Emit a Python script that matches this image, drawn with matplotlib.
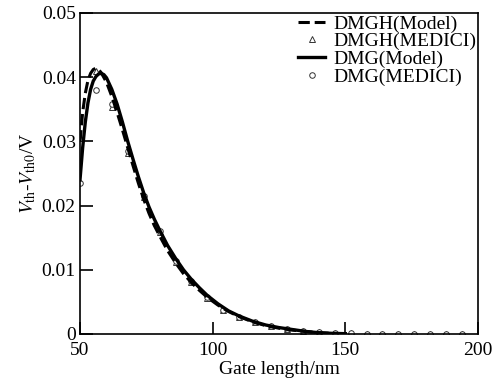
import numpy as np
import matplotlib
matplotlib.use('Agg')
import matplotlib.pyplot as plt

plt.rcParams['font.family'] = ['Liberation Serif', 'DejaVu Serif']
plt.rcParams['mathtext.fontset'] = 'stix'

# DMGH model (dashed)
x_dmgh = [50, 51, 52, 53, 54, 55, 56, 57, 58, 60, 62, 64, 66, 68, 70, 72, 74, 76, 78, 80,
          83, 86, 89, 92, 95, 98, 102, 106, 110, 115, 120, 125, 130, 135, 140, 145, 150]
y_dmgh = [0.0300, 0.0345, 0.0375, 0.0395, 0.0406, 0.0412, 0.0414, 0.0412, 0.0407, 0.0392,
          0.0370, 0.0345, 0.0318, 0.0290, 0.0262, 0.0235, 0.0210, 0.0188, 0.0169, 0.0153,
          0.0130, 0.0111, 0.0094, 0.0080, 0.0068, 0.0057, 0.0045, 0.0035, 0.0027, 0.0019,
          0.0013, 0.0009, 0.0006, 0.0004, 0.0002, 0.0001, 0.0]

# DMG model (solid)
x_dmg = [50, 51, 52, 53, 54, 55, 56, 57, 58, 59, 60, 62, 64, 66, 68, 70, 72, 74, 76, 78, 80,
         83, 86, 89, 92, 95, 98, 102, 106, 110, 115, 120, 125, 130, 135, 140, 145, 150]
y_dmg = [0.0240, 0.0290, 0.0330, 0.0360, 0.0381, 0.0394, 0.0401, 0.0405, 0.0406, 0.0404,
         0.0399, 0.0381, 0.0358, 0.0330, 0.0300, 0.0272, 0.0245, 0.0220, 0.0198, 0.0179,
         0.0162, 0.0138, 0.0118, 0.0100, 0.0085, 0.0072, 0.0060, 0.0047, 0.0036, 0.0028,
         0.0020, 0.0014, 0.0010, 0.0007, 0.0004, 0.0002, 0.0001, 0.00005]

# MEDICI simulation points
x_sim = [50, 56, 62, 68, 74, 80, 86, 92, 98, 104, 110, 116, 122, 128, 134, 140, 146,
         152, 158, 164, 170, 176, 182, 188, 194]
y_dmgh_sim = [0.0305, 0.0410, 0.0354, 0.0282, 0.0213, 0.0159, 0.0112, 0.0081, 0.0056,
              0.0037, 0.0026, 0.0018, 0.0012, 0.0008, 0.0005, 0.0003, 0.0002, 0.0001,
              0.0, 0.0, 0.0, 0.0, 0.0, 0.0, 0.0]
y_dmg_sim = [0.0235, 0.0380, 0.0358, 0.0285, 0.0215, 0.0160, 0.0114, 0.0082, 0.0057,
             0.0038, 0.0027, 0.0018, 0.0012, 0.0008, 0.0005, 0.0003, 0.0002, 0.0001,
             0.0, 0.0, 0.0, 0.0, 0.0, 0.0, 0.0]

fig = plt.figure(figsize=(4.95, 3.89), dpi=100)
ax = fig.add_axes([0.1616, 0.1414, 0.804, 0.8252])

ax.plot(x_dmgh, y_dmgh, color='black', linestyle='--', linewidth=2.2, zorder=3,
        label='DMGH(Model)')
ax.plot(x_sim, y_dmgh_sim, linestyle='none', marker='^', markersize=4.5, markerfacecolor='white',
        markeredgecolor='#333333', markeredgewidth=0.7, zorder=2, label='DMGH(MEDICI)')
ax.plot(x_dmg, y_dmg, color='black', linestyle='-', linewidth=2.4, zorder=3,
        label='DMG(Model)')
ax.plot(x_sim, y_dmg_sim, linestyle='none', marker='o', markersize=4, markerfacecolor='white',
        markeredgecolor='#333333', markeredgewidth=0.7, zorder=2, label='DMG(MEDICI)')

ax.set_xlim(50, 200)
ax.set_ylim(0, 0.05)
ax.set_xticks([50, 100, 150, 200])
ax.set_yticks([0, 0.01, 0.02, 0.03, 0.04, 0.05])
ax.set_yticklabels(['0', '0.01', '0.02', '0.03', '0.04', '0.05'])
ax.tick_params(direction='in', length=9, width=1.2, labelsize=14, top=False, right=False)
ax.tick_params(axis='x', pad=6)
ax.tick_params(axis='y', pad=3)
for s in ax.spines.values():
    s.set_linewidth(1.2)

ax.set_xlabel('Gate length/nm', fontsize=14, labelpad=1)
ax.set_ylabel(r'$V_{\rm th}$-$V_{\rm th0}$/V', fontsize=14, labelpad=3)

ax.legend(loc='upper right', bbox_to_anchor=(1.0, 1.0), frameon=False, fontsize=14,
          handlelength=1.4, handletextpad=0.4, labelspacing=0.0, borderaxespad=0.0,
          borderpad=0.1)

plt.savefig('out.png', dpi=100)
